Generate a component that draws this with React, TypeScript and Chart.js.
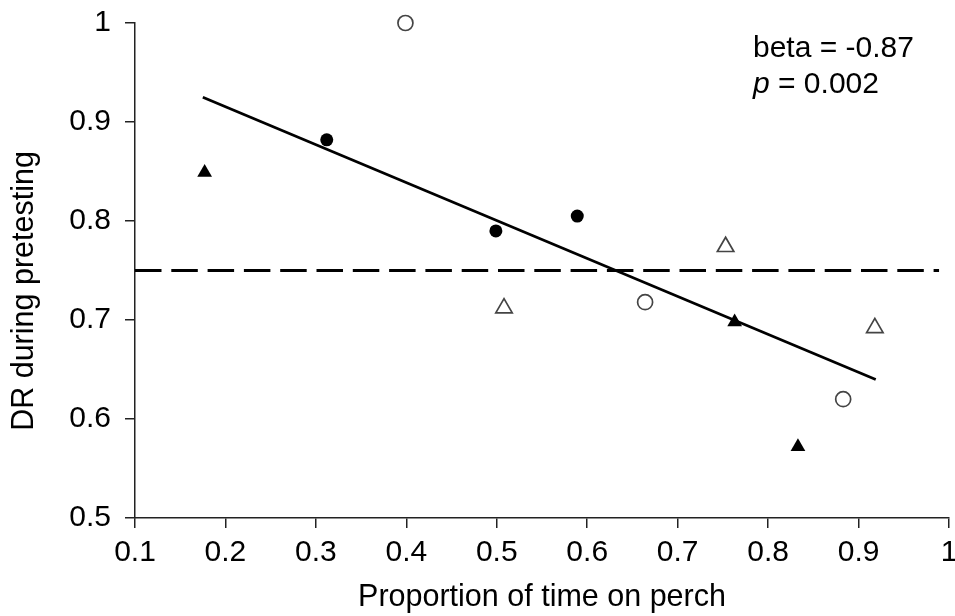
import { useEffect, useRef } from "react";
import { Chart, registerables } from "chart.js";

Chart.register(...registerables);

const xTickValues = [0.1, 0.2, 0.3, 0.4, 0.5, 0.6, 0.7, 0.8, 0.9, 1];
const yTickValues = [0.5, 0.6, 0.7, 0.8, 0.9, 1];

const filledCircleX = [0.312, 0.499, 0.589];
const filledCircleY = [0.882, 0.79, 0.805];

const openCircleX = [0.399, 0.664, 0.883];
const openCircleY = [1.0, 0.718, 0.62];

const filledTriangleX = [0.177, 0.763, 0.833];
const filledTriangleY = [0.849, 0.698, 0.572];

const openTriangleX = [0.508, 0.753, 0.918];
const openTriangleY = [0.712, 0.774, 0.692];

const trendX = [0.175, 0.919];
const trendY = [0.925, 0.64];

const refLineX = [0.1, 0.989];
const refLineY = [0.75, 0.75];

const xTitle = "Proportion of time on perch";
const yTitle = "DR during pretesting";
const betaText = "beta = -0.87";
const pLabel = "p";
const pValueText = " = 0.002";

const FONT = "'Liberation Sans', Arial, sans-serif";

const pts = (xs: number[], ys: number[]) => xs.map((x, i) => ({ x, y: ys[i] }));
const fmt = (v: number) => (Math.abs(v - 1) < 1e-9 ? "1" : v.toFixed(1));

export default function App() {
  const ref = useRef<HTMLCanvasElement>(null);

  useEffect(() => {
    const annot = {
      id: "annot",
      afterDraw(chart: any) {
        const ctx = chart.ctx;
        ctx.save();
        ctx.fillStyle = "#000";
        ctx.textBaseline = "alphabetic";
        ctx.textAlign = "left";
        ctx.font = `30px ${FONT}`;
        ctx.fillText(betaText, 753, 57);
        ctx.font = `italic 30px ${FONT}`;
        ctx.fillText(pLabel, 753, 93);
        const w = ctx.measureText(pLabel).width;
        ctx.font = `30px ${FONT}`;
        ctx.fillText(pValueText, 753 + w, 93);
        // y title
        ctx.translate(25, 291);
        ctx.rotate(-Math.PI / 2);
        ctx.textAlign = "center";
        ctx.textBaseline = "middle";
        ctx.font = `30.5px ${FONT}`;
        ctx.fillText(yTitle, 0, 0);
        ctx.restore();
      },
    };

    const chart = new Chart(ref.current!, {
      type: "scatter",
      data: {
        datasets: [
          {
            data: pts(filledCircleX, filledCircleY),
            pointStyle: "circle",
            pointRadius: 6.5,
            backgroundColor: "#000",
            borderColor: "#000",
            borderWidth: 0,
            clip: false,
          },
          {
            data: pts(openCircleX, openCircleY),
            pointStyle: "circle",
            pointRadius: 7.5,
            backgroundColor: "#fff",
            borderColor: "#444",
            borderWidth: 1.7,
            clip: false,
          },
          {
            data: pts(filledTriangleX, filledTriangleY),
            pointStyle: "triangle",
            pointRadius: 8.5,
            backgroundColor: "#000",
            borderColor: "#000",
            borderWidth: 0,
            clip: false,
          },
          {
            data: pts(openTriangleX, openTriangleY),
            pointStyle: "triangle",
            pointRadius: 9.5,
            backgroundColor: "#fff",
            borderColor: "#444",
            borderWidth: 1.7,
            clip: false,
          },
          {
            type: "line",
            data: pts(trendX, trendY),
            borderColor: "#000",
            borderWidth: 2.7,
            pointRadius: 0,
            showLine: true,
            clip: false,
          } as any,
          {
            type: "line",
            data: pts(refLineX, refLineY),
            borderColor: "#000",
            borderWidth: 3,
            borderDash: [26.5, 9.8],
            pointRadius: 0,
            showLine: true,
            clip: false,
          } as any,
        ],
      },
      options: {
        responsive: false,
        animation: false,
        events: [],
        layout: { autoPadding: false, padding: { top: 23, right: 6, bottom: 0, left: 0 } },
        plugins: { legend: { display: false }, tooltip: { enabled: false } },
        scales: {
          x: {
            type: "linear",
            min: 0.1,
            max: 1,
            afterBuildTicks: (s: any) => {
              s.ticks = xTickValues.map((v) => ({ value: v }));
            },
            afterFit: (s: any) => {
              s.height = 98;
              s.paddingLeft = 0;
              s.paddingRight = 0;
              s.paddingTop = 0;
              s.paddingBottom = 0;
            },
            ticks: {
              autoSkip: false,
              maxRotation: 0,
              padding: 7,
              color: "#000",
              font: { family: FONT, size: 30 },
              callback: (v: any) => fmt(Number(v)),
            },
            grid: {
              display: true,
              drawOnChartArea: false,
              drawTicks: true,
              tickLength: 10,
              color: "#222",
              lineWidth: 1.5,
            },
            border: { display: true, color: "#222", width: 1.5 },
            title: {
              display: true,
              text: xTitle,
              color: "#000",
              font: { family: FONT, size: 30.5 },
              padding: { top: 0, bottom: 0 },
            },
          },
          y: {
            type: "linear",
            min: 0.5,
            max: 1,
            afterBuildTicks: (s: any) => {
              s.ticks = yTickValues.map((v) => ({ value: v }));
            },
            afterFit: (s: any) => {
              s.width = 135;
              s.paddingTop = 0;
              s.paddingBottom = 0;
              s.paddingLeft = 0;
              s.paddingRight = 0;
            },
            ticks: {
              autoSkip: false,
              padding: 14,
              color: "#000",
              font: { family: FONT, size: 30 },
              callback: (v: any) => fmt(Number(v)),
            },
            grid: {
              display: true,
              drawOnChartArea: false,
              drawTicks: true,
              tickLength: 10,
              color: "#222",
              lineWidth: 1.5,
            },
            border: { display: true, color: "#222", width: 1.5 },
          },
        },
      },
      plugins: [annot],
    } as any);

    return () => chart.destroy();
  }, []);

  return (
    <div style={{ position: "absolute", left: 0, top: 0, width: 955, height: 616, background: "#fff" }}>
      <canvas ref={ref} width={955} height={616} style={{ display: "block" }} />
    </div>
  );
}
